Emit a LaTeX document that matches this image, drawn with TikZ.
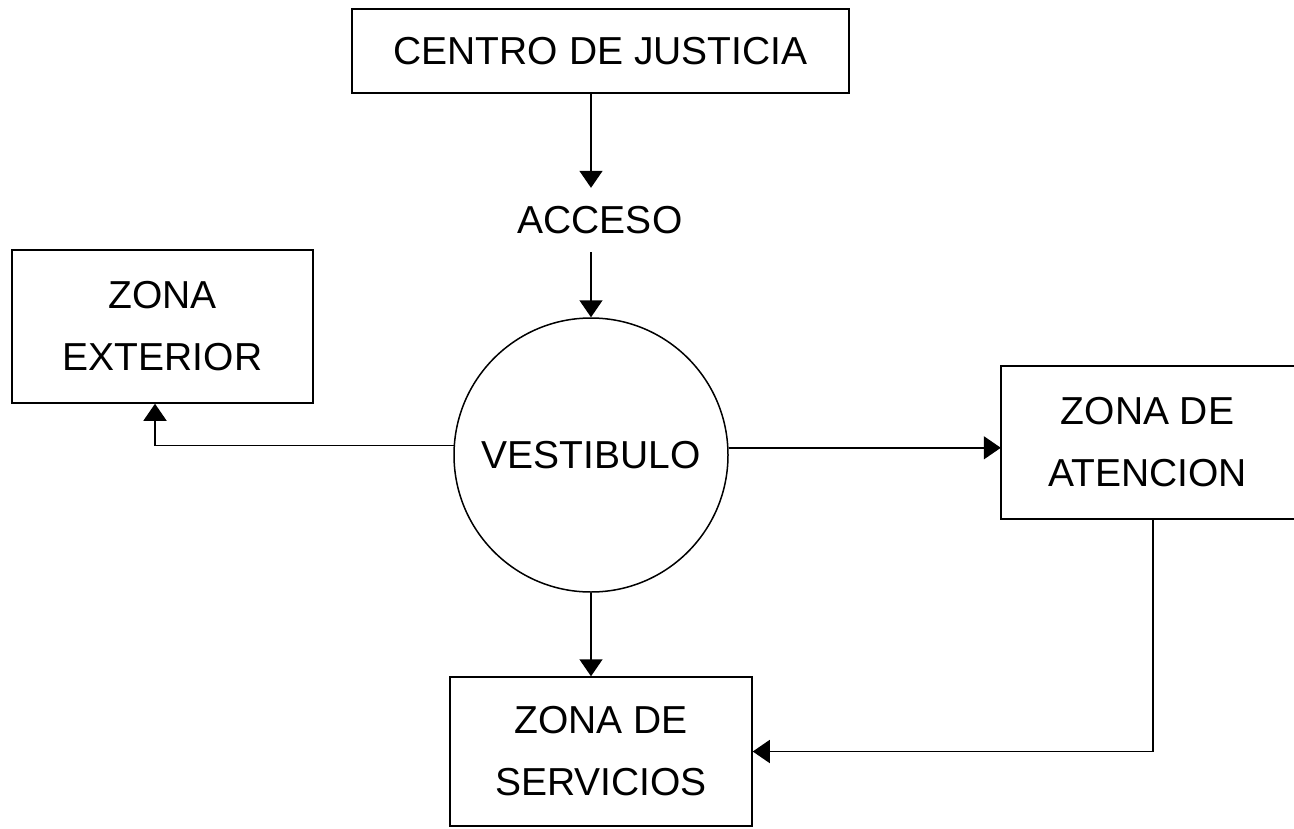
\documentclass[tikz,border=0pt]{standalone}
\usepackage{fontspec}
\setmainfont{Liberation Sans}
\usetikzlibrary{arrows.meta}
\tikzset{
  lbl/.style={font=\fontsize{39}{62}\selectfont, align=center, inner sep=0pt},
  zonebox/.style={lbl, draw, line width=1.5pt},
  arr/.style={line width=1.5pt, -{Triangle[width=23pt,length=17pt]}},
  conn/.style={line width=1.5pt}
}
\begin{document}
\begin{tikzpicture}[x=1pt,y=-1pt]
\useasboundingbox (0,0) rectangle (1294,828);
\node[zonebox, minimum width=497pt, minimum height=84pt] (cj) at (600.5,51) {CENTRO DE JUSTICIA};
\node[lbl, minimum height=64pt, minimum width=170pt] (acc) at (600,220) {ACCESO};
\node[lbl, draw, line width=1.5pt, circle, minimum size=274pt] (vest) at (591,455) {VESTIBULO};
\node[zonebox, minimum width=301pt, minimum height=153pt] (ext) at (162.5,326.5) {ZONA\\EXTERIOR};
\node[lbl, minimum width=293pt, minimum height=153pt] (aten) at (1147.5,442.5) {ZONA DE\\ATENCION};
\draw[conn] (aten.north east) -- (aten.north west) -- (aten.south west) -- (aten.south east);
\node[zonebox, minimum width=302pt, minimum height=149pt] (serv) at (601,751.5) {ZONA DE\\SERVICIOS};
\draw[arr] (cj.south -| vest.north) -- (acc.north -| vest.north);
\draw[arr] (acc.south -| vest.north) -- (vest.north);
\draw[arr] (vest.176.6) -| ([xshift=-7.5pt]ext.south);
\draw[arr] (vest.3.4) -- (vest.3.4 -| aten.west);
\draw[arr] (vest.south) -- (vest.south |- serv.north);
\draw[arr] ([xshift=5.5pt]aten.south) |- (serv.east);
\end{tikzpicture}
\end{document}
